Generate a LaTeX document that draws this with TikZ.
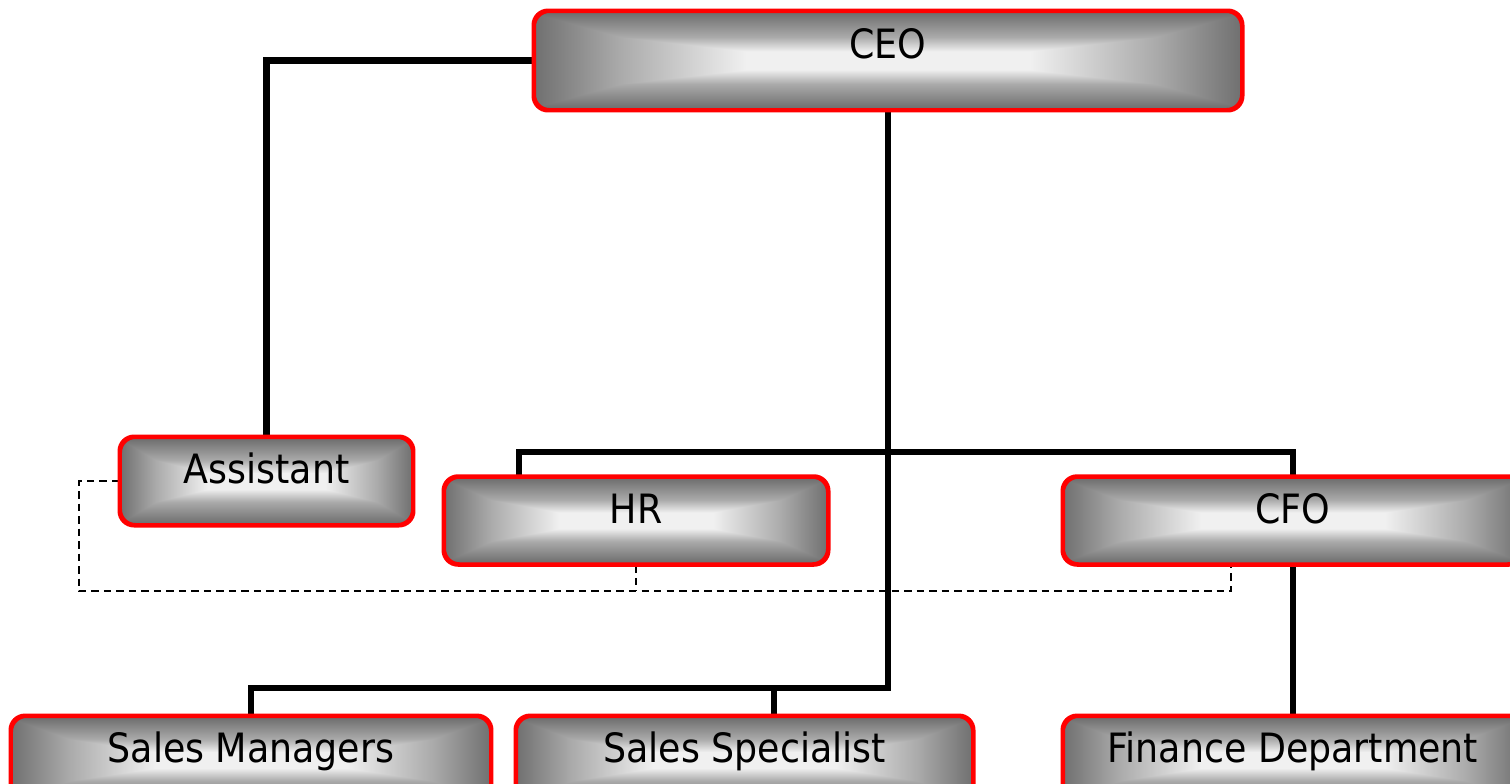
\documentclass[tikz,border=0pt]{standalone}
\usepackage{fontspec}
\setmainfont{DejaVu Sans Condensed}
\definecolor{boxgray}{RGB}{112,112,112}
\definecolor{boxmid}{RGB}{170,170,170}
\definecolor{boxlight}{RGB}{240,240,240}
\pgfdeclarehorizontalshading{orgh}{100bp}{%
  color(0bp)=(boxgray); color(25bp)=(boxgray); color(31bp)=(boxmid);
  color(40bp)=(boxlight); color(60bp)=(boxlight);
  color(69bp)=(boxmid); color(75bp)=(boxgray); color(100bp)=(boxgray)}
\pgfdeclareverticalshading{orgv}{100bp}{%
  color(0bp)=(boxgray); color(26bp)=(boxgray); color(38bp)=(boxmid);
  color(47bp)=(white); color(53bp)=(white);
  color(62bp)=(boxmid); color(74bp)=(boxgray); color(100bp)=(boxgray)}

\begin{document}
\begin{tikzpicture}[
		orgbox/.style={draw=red, line width=1.7pt, rounded corners=0.3cm,
			shading=orgh,
			path picture={\begin{scope}[blend mode=darken]
				\shade[shading=orgv] (path picture bounding box.south west) rectangle (path picture bounding box.north east);
				\end{scope}},
			minimum height=1.73cm,
			font=\fontsize{23}{27}\selectfont,
			text height=0.6cm, text depth=0.49cm, inner sep=0pt},
		link/.style={line width=3.8pt},
		dotlink/.style={line width=0.8pt, dash pattern=on 0.15cm off 0.1cm}
	]
		\useasboundingbox (0,0) rectangle (30.2,-15.66);

		% boxes
		\node[orgbox, minimum width=14.14cm, minimum height=1.96cm, text height=0.5cm, text depth=0.59cm] (ceo) at (17.76,-1.21) {CEO};
		\node[orgbox, minimum width=5.84cm, minimum height=1.74cm] (assistant) at (5.33,-9.62) {Assistant};
		\node[orgbox, minimum width=7.66cm] (hr) at (12.72,-10.41) {HR};
		\node[orgbox, minimum width=9.18cm] (cfo) at (25.86,-10.41) {CFO};
		\node[orgbox, minimum width=9.58cm, minimum height=1.74cm] (salesmgr) at (5.02,-15.2) {Sales Managers};
		\node[orgbox, minimum width=9.12cm, minimum height=1.74cm] (salesspec) at (14.89,-15.2) {Sales Specialist};
		\node[orgbox, minimum width=9.18cm, minimum height=1.74cm] (finance) at (25.86,-15.2) {Finance Department};

		% joints
		\coordinate (salesbus) at (ceo.south |- 0,-13.76);
		\coordinate (specjoin) at (15.48,-13.76);
		\coordinate (hrjoin) at (10.38,-9.04);
		\coordinate (dotleft) at (1.58,-11.82);
		\coordinate (dotright) at (24.62,-11.82);

		% solid lines
		\draw[link] (ceo.west) -| (assistant.north);
		\draw[link] (ceo.south) -- (salesbus) -| (salesmgr.north);
		\draw[link] (specjoin) -- (specjoin |- salesspec.north);
		\draw[link] (hrjoin |- hr.north) -- (hrjoin) -- (hrjoin -| cfo.north) -- (cfo.north);
		\draw[link] (cfo.south) -- (finance.north);

		% dotted line
		\draw[dotlink] (assistant.west) -- (assistant.west -| dotleft) -- (dotleft) -- (dotright) -- (dotright |- cfo.south);
		\draw[dotlink] (hr.south) -- (hr.south |- dotleft);

		% redraw borders on top of lines
		\foreach \n in {ceo,assistant,hr,cfo,salesmgr,salesspec,finance}
			\draw[red, line width=1.7pt, rounded corners=0.3cm] (\n.north west) rectangle (\n.south east);
	\end{tikzpicture}
\end{document}
